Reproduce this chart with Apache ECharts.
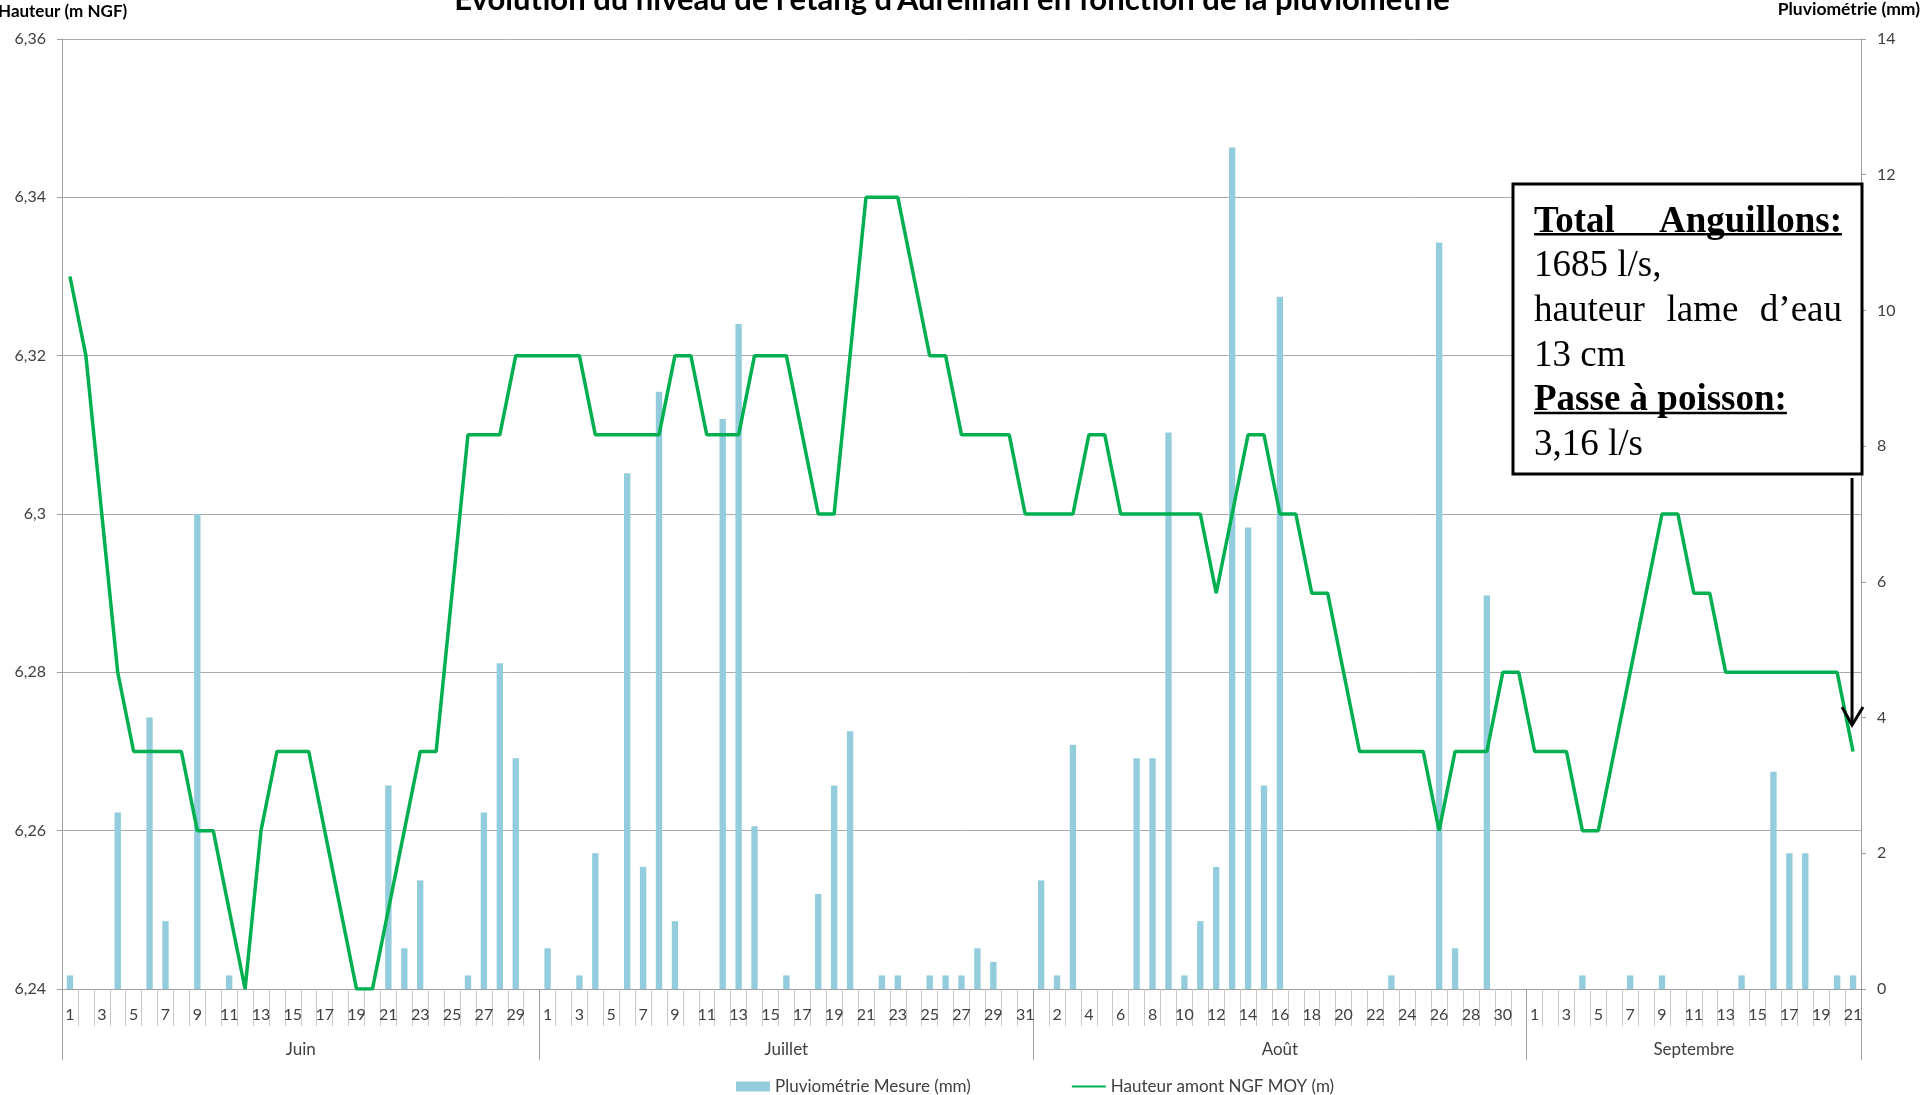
<!DOCTYPE html>
<html><head><meta charset="utf-8">
<script src="https://cdn.jsdelivr.net/npm/echarts@6/dist/echarts.min.js"></script>
<style>html,body{margin:0;padding:0;background:#fff;overflow:hidden}#c{width:1920px;height:1095px}</style>
</head><body><div id="c"></div>
<script>
// ---------- DATA ----------
const months = ['Juin', 'Juillet', 'Août', 'Septembre'];
const monthDays = [30, 31, 31, 21];

const hauteurJuin = [6.33,6.32,6.30,6.28,6.27,6.27,6.27,6.27,6.26,6.26,6.25,6.24,6.26,6.27,6.27,6.27,6.26,6.25,6.24,6.24,6.25,6.26,6.27,6.27,6.29,6.31,6.31,6.31,6.32,6.32];
const hauteurJuillet = [6.32,6.32,6.32,6.31,6.31,6.31,6.31,6.31,6.32,6.32,6.31,6.31,6.31,6.32,6.32,6.32,6.31,6.30,6.30,6.32,6.34,6.34,6.34,6.33,6.32,6.32,6.31,6.31,6.31,6.31,6.30];
const hauteurAout = [6.30,6.30,6.30,6.31,6.31,6.30,6.30,6.30,6.30,6.30,6.30,6.29,6.30,6.31,6.31,6.30,6.30,6.29,6.29,6.28,6.27,6.27,6.27,6.27,6.27,6.26,6.27,6.27,6.27,6.28,6.28];
const hauteurSept = [6.27,6.27,6.27,6.26,6.26,6.27,6.28,6.29,6.30,6.30,6.29,6.29,6.28,6.28,6.28,6.28,6.28,6.28,6.28,6.28,6.27];

const pluvioJuin = [0.2,0,0,2.6,0,4.0,1.0,0,7.0,0,0.2,0,0,0,0,0,0,0,0,0,3.0,0.6,1.6,0,0,0.2,2.6,4.8,3.4,0];
const pluvioJuillet = [0.6,0,0.2,2.0,0,7.6,1.8,8.8,1.0,0,0,8.4,9.8,2.4,0,0.2,0,1.4,3.0,3.8,0,0.2,0.2,0,0.2,0.2,0.2,0.6,0.4,0,0];
const pluvioAout = [1.6,0.2,3.6,0,0,0,3.4,3.4,8.2,0.2,1.0,1.8,12.4,6.8,3.0,10.2,0,0,0,0,0,0,0.2,0,0,11.0,0.6,0,5.8,0,0];
const pluvioSept = [0,0,0,0.2,0,0,0.2,0,0.2,0,0,0,0,0.2,0,3.2,2.0,2.0,0,0.2,0.2];

const leftTicks = { min: 6.24, max: 6.36, interval: 0.02 };
const rightTicks = { min: 0, max: 14, interval: 2 };

const titleText = "Evolution du niveau de l'étang d'Aureilhan en fonction de la pluviométrie";
const leftAxisName = 'Hauteur (m NGF)';
const rightAxisName = 'Pluviométrie (mm)';
const barName = 'Pluviométrie Mesure (mm)';
const lineName = 'Hauteur amont NGF MOY (m)';
const noteTitle1 = ['Total', 'Anguillons:'];
const noteLine2 = '1685 l/s,';
const noteLine3 = ['hauteur', 'lame', 'd’eau'];
const noteLine4 = '13 cm';
const noteTitle2 = 'Passe à poisson:';
const noteLine6 = '3,16 l/s';

// ---------- BUILD ----------
const hauteur = hauteurJuin.concat(hauteurJuillet, hauteurAout, hauteurSept);
const pluvio = pluvioJuin.concat(pluvioJuillet, pluvioAout, pluvioSept);
const dayLabels = [], monthOfDay = [], monthStart = [], monthLabelIdx = {};
let k = 0;
monthDays.forEach((n, m) => {
  monthStart.push(k);
  for (let d = 1; d <= n; d++) { dayLabels.push(String(d)); monthOfDay.push(months[m]); }
  monthLabelIdx[Math.floor(k + n / 2)] = (n % 2 === 0) ? 'even' : 'odd';
  k += n;
});

const SANS = 'Lato, "Open Sans", sans-serif';
const SERIF = '"Liberation Serif", "Times New Roman", serif';
const TXT = '#404040';

const chart = echarts.init(document.getElementById('c'), null, { renderer: 'canvas' });
const gridL = 62, gridR = 59, gridT = 39, gridB = 106;

chart.setOption({
  animation: false,
  backgroundColor: '#fff',
  grid: { left: gridL, right: gridR, top: gridT, bottom: gridB, containLabel: false },
  legend: {
    left: 731, top: 1073, itemWidth: 34, itemHeight: 10, itemGap: 100,
    textStyle: { fontFamily: SANS, fontSize: 17, color: TXT },
    data: [
      { name: barName, icon: 'rect' },
      { name: lineName, itemStyle: { opacity: 0 } }
    ]
  },
  xAxis: [
    {
      type: 'category', data: dayLabels, position: 'bottom', boundaryGap: true,
      axisLine: { show: true, lineStyle: { color: '#a0a0a0', width: 1 } },
      axisTick: { show: true, interval: 0, length: 37, lineStyle: { color: '#c8c8c8' } },
      axisLabel: { interval: 1, margin: 18, fontFamily: SANS, fontSize: 16, color: TXT },
      splitLine: { show: false }
    },
    {
      type: 'category', data: monthOfDay, position: 'bottom', boundaryGap: true,
      axisLine: { show: false },
      axisTick: { show: true, length: 71, lineStyle: { color: '#a0a0a0' },
        interval: (i) => monthStart.indexOf(i) >= 0 },
      axisLabel: {
        margin: 52, fontFamily: SANS, fontSize: 17, color: TXT,
        interval: (i) => monthLabelIdx[i] !== undefined,
        formatter: (v, i) => monthLabelIdx[i] === 'even' ? '{s|' + v + '}' : v,
        rich: { s: { fontFamily: SANS, fontSize: 17, color: TXT, padding: [0, 16, 0, 0] } }
      },
      splitLine: { show: false }
    }
  ],
  yAxis: [
    {
      type: 'value', position: 'left', min: leftTicks.min, max: leftTicks.max, interval: leftTicks.interval,
      axisLine: { show: true, lineStyle: { color: '#a0a0a0' } },
      axisTick: { show: true, length: 5, lineStyle: { color: '#a0a0a0' } },
      axisLabel: { margin: 16, fontFamily: SANS, fontSize: 16, color: TXT,
        formatter: (v) => String(+v.toFixed(2)).replace('.', ',') },
      splitLine: { show: true, lineStyle: { color: '#ababab', width: 1 } }
    },
    {
      type: 'value', position: 'right', min: rightTicks.min, max: rightTicks.max, interval: rightTicks.interval,
      axisLine: { show: true, lineStyle: { color: '#a0a0a0' } },
      axisTick: { show: true, length: 5, lineStyle: { color: '#a0a0a0' } },
      axisLabel: { margin: 16, fontFamily: SANS, fontSize: 16, color: TXT },
      splitLine: { show: false }
    }
  ],
  series: [
    {
      name: barName, type: 'bar', xAxisIndex: 0, yAxisIndex: 1, data: pluvio,
      barWidth: '40%', itemStyle: { color: '#93cddd' }, z: 2
    },
    {
      name: lineName, type: 'line', xAxisIndex: 0, yAxisIndex: 0, data: hauteur,
      symbol: 'none', showSymbol: false, lineStyle: { color: '#00b050', width: 3.5 },
      itemStyle: { color: '#00b050' }, z: 3
    }
  ]
});

// ---------- ANNOTATIONS ----------
const ctx = document.createElement('canvas').getContext('2d');
function tw(s, font) { ctx.font = font; return ctx.measureText(s).width; }
const fN = '37px ' + SERIF, fB = 'bold 37px ' + SERIF;
const bx = 1513, by = 184, bw = 349, bh = 290;
const tl = 1534, tr = 1842, ly0 = 222, lstep = 44.7;
const w3 = noteLine3.map(s => tw(s, fN));
const gap3 = (tr - tl - w3[0] - w3[1] - w3[2]) / 2;
const wP = tw(noteTitle2, fB);
const xArrow = chart.convertToPixel({ xAxisIndex: 0 }, dayLabels.length - 1);

function T(text, x, y, font, align) {
  return { type: 'text', z: 100, silent: true,
    style: { text, x, y, font, fill: '#000', align: align || 'left', textAlign: align || 'left',
      verticalAlign: 'middle', textVerticalAlign: 'middle' } };
}
const g = [
  { type: 'text', z: 100, style: { text: titleText, x: 952, y: 0, font: 'bold 31px ' + SANS, fill: '#000',
      align: 'center', textAlign: 'center', verticalAlign: 'middle', textVerticalAlign: 'middle' } },
  { type: 'text', z: 100, style: { text: leftAxisName, x: -2, y: 12, font: 'bold 17px ' + SANS, fill: '#000',
      align: 'left', textAlign: 'left', verticalAlign: 'middle', textVerticalAlign: 'middle' } },
  { type: 'text', z: 100, style: { text: rightAxisName, x: 1920, y: 9, font: 'bold 17.5px ' + SANS, fill: '#000',
      align: 'right', textAlign: 'right', verticalAlign: 'middle', textVerticalAlign: 'middle' } },
  { type: 'rect', z: 90, shape: { x: bx, y: by, width: bw, height: bh },
    style: { fill: '#fff', stroke: '#000', lineWidth: 3 } },
  T(noteTitle1[0], tl, ly0, fB, 'left'),
  T(noteTitle1[1], tr, ly0, fB, 'right'),
  { type: 'rect', z: 100, shape: { x: tl, y: ly0 + 11, width: tr - tl, height: 2.5 }, style: { fill: '#000' } },
  T(noteLine2, tl, ly0 + lstep, fN, 'left'),
  T(noteLine3[0], tl, ly0 + 2 * lstep, fN, 'left'),
  T(noteLine3[1], tl + w3[0] + gap3, ly0 + 2 * lstep, fN, 'left'),
  T(noteLine3[2], tr, ly0 + 2 * lstep, fN, 'right'),
  T(noteLine4, tl, ly0 + 3 * lstep, fN, 'left'),
  T(noteTitle2, tl, ly0 + 4 * lstep, fB, 'left'),
  { type: 'rect', z: 100, shape: { x: tl, y: ly0 + 4 * lstep + 11, width: wP, height: 2.5 }, style: { fill: '#000' } },
  T(noteLine6, tl, ly0 + 5 * lstep, fN, 'left'),
  { type: 'line', z: 100, shape: { x1: xArrow - 1, y1: by + bh + 4, x2: xArrow - 1, y2: 724 },
    style: { stroke: '#000', lineWidth: 3 } },
  { type: 'polyline', z: 100, shape: { points: [[xArrow - 11, 707], [xArrow - 1, 725], [xArrow + 10, 707]] },
    style: { stroke: '#000', lineWidth: 3, fill: null } }
];
chart.setOption({ graphic: { elements: g } });
</script></body></html>
